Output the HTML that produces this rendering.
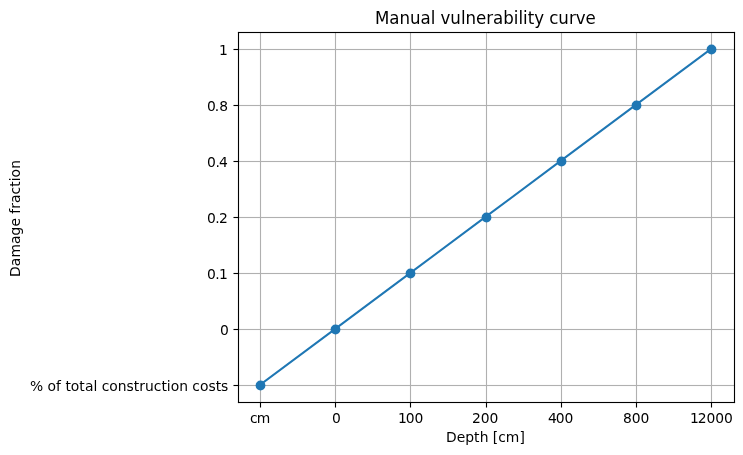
<!DOCTYPE html>
<html lang="en">
<head>
<meta charset="utf-8">
<title>Manual vulnerability curve</title>
<style>
html,body{margin:0;padding:0;background:#fff;overflow:hidden}
svg{display:block}
text{font-family:"DejaVu Sans","Liberation Sans",sans-serif;fill:#000;font-size:13.8889px}
.t{font-size:16.6667px}
</style>
</head>
<body>
<svg width="743" height="455" viewBox="0 0 743 455">
<rect width="743" height="455" fill="#fff"/>
<path stroke="#b0b0b0" stroke-width="1.1111" d="M260.5 33V402M335.5 33V402M410.5 33V402M486.5 33V402M561.5 33V402M636.5 33V402M711.5 33V402"/>
<g fill="#b0b0b0">
<g fill-opacity=".0556"><rect x="239" y="384" width="495" height="3"/><rect x="239" y="328" width="495" height="3"/><rect x="239" y="272" width="495" height="3"/><rect x="239" y="216" width="495" height="3"/><rect x="239" y="160" width="495" height="3"/><rect x="239" y="104" width="495" height="3"/><rect x="239" y="48" width="495" height="3"/></g>
<rect x="239" y="385" width="495" height="1"/><rect x="239" y="329" width="495" height="1"/><rect x="239" y="273" width="495" height="1"/><rect x="239" y="217" width="495" height="1"/><rect x="239" y="161" width="495" height="1"/><rect x="239" y="105" width="495" height="1"/><rect x="239" y="49" width="495" height="1"/>
</g>
<polyline points="260.073,384.922 335.225,328.922 410.376,272.922 485.528,216.922 560.679,160.922 635.831,104.922 710.982,48.922" fill="none" stroke="#1f77b4" stroke-width="2" stroke-linecap="square" stroke-linejoin="round"/>
<g fill="#1f77b4">
<circle cx="260.5" cy="385.5" r="4.92"/>
<circle cx="335.5" cy="329.5" r="4.92"/>
<circle cx="410.5" cy="273.5" r="4.92"/>
<circle cx="486.5" cy="217.5" r="4.92"/>
<circle cx="561.5" cy="161.5" r="4.92"/>
<circle cx="636.5" cy="105.5" r="4.92"/>
<circle cx="711.5" cy="49.5" r="4.92"/>
</g>
<g fill="#000">
<g fill-opacity=".0556">
<rect x="259" y="403" width="3" height="4"/><rect x="259" y="407" width="3" height="1" fill-opacity=".0278"/><rect x="334" y="403" width="3" height="4"/><rect x="334" y="407" width="3" height="1" fill-opacity=".0278"/><rect x="409" y="403" width="3" height="4"/><rect x="409" y="407" width="3" height="1" fill-opacity=".0278"/><rect x="485" y="403" width="3" height="4"/><rect x="485" y="407" width="3" height="1" fill-opacity=".0278"/><rect x="560" y="403" width="3" height="4"/><rect x="560" y="407" width="3" height="1" fill-opacity=".0278"/><rect x="635" y="403" width="3" height="4"/><rect x="635" y="407" width="3" height="1" fill-opacity=".0278"/><rect x="710" y="403" width="3" height="4"/><rect x="710" y="407" width="3" height="1" fill-opacity=".0278"/>
<rect x="234" y="384" width="4" height="3"/><rect x="233" y="384" width="1" height="3" fill-opacity=".0278"/><rect x="234" y="328" width="4" height="3"/><rect x="233" y="328" width="1" height="3" fill-opacity=".0278"/><rect x="234" y="272" width="4" height="3"/><rect x="233" y="272" width="1" height="3" fill-opacity=".0278"/><rect x="234" y="216" width="4" height="3"/><rect x="233" y="216" width="1" height="3" fill-opacity=".0278"/><rect x="234" y="160" width="4" height="3"/><rect x="233" y="160" width="1" height="3" fill-opacity=".0278"/><rect x="234" y="104" width="4" height="3"/><rect x="233" y="104" width="1" height="3" fill-opacity=".0278"/><rect x="234" y="48" width="4" height="3"/><rect x="233" y="48" width="1" height="3" fill-opacity=".0278"/>
<rect x="237" y="32" width="3" height="371"/><rect x="733" y="32" width="3" height="371"/><rect x="238" y="31" width="497" height="3"/><rect x="238" y="401" width="497" height="3"/><rect x="237" y="32" width="1" height="1"/><rect x="237" y="402" width="1" height="1"/><rect x="735" y="32" width="1" height="1"/><rect x="735" y="402" width="1" height="1"/><rect x="238" y="31" width="1" height="1"/><rect x="734" y="31" width="1" height="1"/><rect x="238" y="403" width="1" height="1"/><rect x="734" y="403" width="1" height="1"/>
</g>
<rect x="260" y="403" width="1" height="4.5"/><rect x="335" y="403" width="1" height="4.5"/><rect x="410" y="403" width="1" height="4.5"/><rect x="486" y="403" width="1" height="4.5"/><rect x="561" y="403" width="1" height="4.5"/><rect x="636" y="403" width="1" height="4.5"/><rect x="711" y="403" width="1" height="4.5"/>
<rect x="233.5" y="385" width="4.5" height="1"/><rect x="233.5" y="329" width="4.5" height="1"/><rect x="233.5" y="273" width="4.5" height="1"/><rect x="233.5" y="217" width="4.5" height="1"/><rect x="233.5" y="161" width="4.5" height="1"/><rect x="233.5" y="105" width="4.5" height="1"/><rect x="233.5" y="49" width="4.5" height="1"/>
<rect x="238" y="32" width="1" height="371"/><rect x="734" y="32" width="1" height="371"/><rect x="238" y="32" width="497" height="1"/><rect x="238" y="402" width="497" height="1"/>
</g>
<text id="title" class="t" transform="translate(485.50,23.52) scale(1,1.1100)" x="-110.58 -96.21 -86.13 -75.58 -64.96 -54.88 -50.25 -45.07 -35.23 -24.61 -20.1 -9.48 0.65 7.49 17.69 28.27 32.9 37.53 42.15 48.69 58.78 63.65 72.68 83.43 90.27 99.88">Manual vulnerability curve</text>
<text id="xlabel" transform="translate(485.50,441.50)" x="-39.52 -28.84 -20.3 -11.62 -5.69 2.92 7.28 12.81 20.25 33.89">Depth [cm]</text>
<text id="ylabel" transform="translate(19.50,218.40) rotate(-90)" x="-58.63 -47.96 -39.21 -25.7 -17.18 -8.2 0.41 4.7 9.59 15.29 23.91 31.6 37.04 40.9 49.57">Damage fraction</text>
<text id="xt_cm" transform="translate(259.80,422.50)" x="-9.89 -3.02">cm</text>
<text id="xt_0" transform="translate(336.45,422.50)" x="-4.54">0</text>
<text id="xt_100" transform="translate(410.35,422.50)" x="-12.43 -4.62 4.08">100</text>
<text id="xt_200" transform="translate(485.00,422.50)" x="-13.12 -4.3 4.46">200</text>
<text id="xt_400" transform="translate(560.15,422.50)" x="-12.24 -4.43 4.33">400</text>
<text id="xt_800" transform="translate(636.30,422.50)" x="-13.43 -4.62 4.08">800</text>
<text id="xt_12000" transform="translate(710.95,422.50)" x="-21.07 -13.26 -4.49 4.21 13.04">12000</text>
<text id="yt_pct" transform="translate(228.28,390.55)" x="-198.36 -185.06 -180.83 -172.34 -167.28 -162.67 -157.48 -149.06 -143.19 -134.86 -131.14 -126.59 -118.97 -110.61 -101.81 -94.59 -89.02 -83.37 -74.58 -66.89 -61.45 -57.41 -49.11 -40.44 -35.97 -28.34 -19.84 -12.56 -7.38">% of total construction costs</text>
<text id="yt_0" transform="translate(228.78,334.55)" x="-8.89">0</text>
<text id="yt_0_1" transform="translate(228.53,278.55)" x="-21.45 -13.27 -9.59">0.1</text>
<text id="yt_0_2" transform="translate(228.53,222.55)" x="-21.45 -13.27 -9.59">0.2</text>
<text id="yt_0_4" transform="translate(228.53,166.55)" x="-21.45 -13.02 -9.59">0.4</text>
<text id="yt_0_8" transform="translate(228.53,110.55)" x="-21.64 -13.77 -9.34">0.8</text>
<text id="yt_1" transform="translate(227.78,54.55)" x="-8.89">1</text>
</svg>
</body>
</html>
